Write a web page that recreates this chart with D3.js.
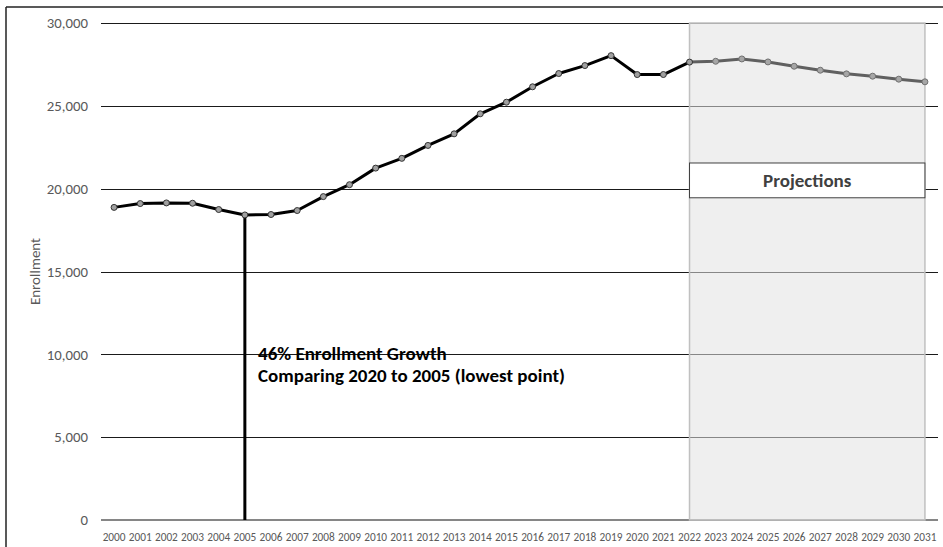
<!DOCTYPE html>
<html>
<head>
<meta charset="utf-8">
<script src="https://cdn.jsdelivr.net/npm/d3@7"></script>
<style>
  html, body { margin: 0; padding: 0; background: #fff; overflow: hidden; }
  svg { display: block; }
  text { font-family: Carlito, Calibri, Lato, "Liberation Sans", sans-serif; }
</style>
</head>
<body>
<svg id="chart" width="943" height="547"></svg>
<script>
// ---- data ----
const years = ["2000","2001","2002","2003","2004","2005","2006","2007","2008","2009","2010",
  "2011","2012","2013","2014","2015","2016","2017","2018","2019","2020","2021","2022",
  "2023","2024","2025","2026","2027","2028","2029","2030","2031"];
const actualYears = ["2000","2001","2002","2003","2004","2005","2006","2007","2008","2009","2010",
  "2011","2012","2013","2014","2015","2016","2017","2018","2019","2020","2021","2022"];
const actualValues = [18870, 19100, 19140, 19120, 18740, 18414, 18440, 18680, 19520, 20240, 21240,
  21830, 22610, 23310, 24520, 25220, 26150, 26950, 27430, 28030, 26888, 26890, 27640];
const projYears = ["2022","2023","2024","2025","2026","2027","2028","2029","2030","2031"];
const projValues = [27640, 27690, 27830, 27650, 27390, 27150, 26930, 26790, 26610, 26450];
const yTicks = [0, 5000, 10000, 15000, 20000, 25000, 30000];
const yLabel = "Enrollment";
const annotationLines = ["46% Enrollment Growth", "Comparing 2020 to 2005 (lowest point)"];
const lowYear = "2005", lowValue = 18414;
const projLabel = "Projections";
const projStart = "2022", projEnd = "2031";

// ---- layout ----
const svg = d3.select("#chart");
const pLeft = 101, pRight = 938, pTop = 23, pBottom = 520;
const x = d3.scalePoint().domain(years).range([pLeft, pRight]).padding(0.5);
const y = d3.scaleLinear().domain([0, 30000]).range([pBottom, pTop]);

// outer chart border (top and left edges only visible)
svg.append("line").attr("x1", 6).attr("x2", 943).attr("y1", 7).attr("y2", 7)
  .attr("stroke", "#222").attr("stroke-width", 1.5);
svg.append("line").attr("x1", 6).attr("x2", 6).attr("y1", 7).attr("y2", 547)
  .attr("stroke", "#222").attr("stroke-width", 1.5);

// gridlines
svg.append("g").selectAll("line").data(yTicks.filter(d => d > 0)).join("line")
  .attr("x1", pLeft).attr("x2", pRight)
  .attr("y1", d => Math.round(y(d)) + 0.5).attr("y2", d => Math.round(y(d)) + 0.5)
  .attr("stroke", "#1a1a1a").attr("stroke-width", 1.1);

// x baseline
svg.append("line").attr("x1", pLeft).attr("x2", pRight)
  .attr("y1", y(0)).attr("y2", y(0)).attr("stroke", "#868686").attr("stroke-width", 2);

// projection shaded region
svg.append("rect")
  .attr("x", x(projStart)).attr("y", y(30000))
  .attr("width", x(projEnd) - x(projStart)).attr("height", y(0) - y(30000))
  .attr("fill", "#e2e2e2").attr("fill-opacity", 0.55)
  .attr("stroke", "#c0c0c0").attr("stroke-width", 1.5);

// projections label box
const boxTop = y(21550), boxBot = y(19450);
svg.append("rect")
  .attr("x", x(projStart)).attr("y", boxTop)
  .attr("width", x(projEnd) - x(projStart)).attr("height", boxBot - boxTop)
  .attr("fill", "#fff").attr("stroke", "#404040").attr("stroke-width", 1);
svg.append("text")
  .attr("x", (x(projStart) + x(projEnd)) / 2).attr("y", (boxTop + boxBot) / 2)
  .attr("dy", "0.35em").attr("text-anchor", "middle")
  .attr("font-size", 19).attr("font-weight", "bold").attr("fill", "#404040")
  .text(projLabel);

// y tick labels
svg.append("g").selectAll("text").data(yTicks).join("text")
  .attr("x", 88).attr("y", d => y(d)).attr("dy", "0.35em")
  .attr("text-anchor", "end").attr("font-size", 14.8).attr("fill", "#595959")
  .text(d => d3.format(",")(d));

// x tick labels
svg.append("g").selectAll("text").data(years).join("text")
  .attr("x", d => x(d)).attr("y", 537).attr("dy", "0.35em")
  .attr("text-anchor", "middle").attr("font-size", 11.3).attr("fill", "#595959")
  .text(d => d);

// y axis title
svg.append("text")
  .attr("transform", `translate(35,${(pTop + pBottom) / 2}) rotate(-90)`)
  .attr("dy", "0.35em").attr("text-anchor", "middle")
  .attr("font-size", 15).attr("fill", "#595959").text(yLabel);

// vertical drop line at lowest point
svg.append("line")
  .attr("x1", x(lowYear)).attr("x2", x(lowYear))
  .attr("y1", y(lowValue)).attr("y2", y(0))
  .attr("stroke", "#000").attr("stroke-width", 3);

// lines
const line = d3.line().x(d => x(d[0])).y(d => y(d[1]));
const actual = actualYears.map((d, i) => [d, actualValues[i]]);
const proj = projYears.map((d, i) => [d, projValues[i]]);

svg.append("path").datum(proj).attr("d", line)
  .attr("fill", "none").attr("stroke", "#606060").attr("stroke-width", 3)
  .attr("stroke-linejoin", "round");
svg.append("path").datum(actual).attr("d", line)
  .attr("fill", "none").attr("stroke", "#000").attr("stroke-width", 3)
  .attr("stroke-linejoin", "round");

svg.append("g").selectAll("circle").data(proj.slice(1)).join("circle")
  .attr("cx", d => x(d[0])).attr("cy", d => y(d[1])).attr("r", 3)
  .attr("fill", "#a6a6a6").attr("stroke", "#707070").attr("stroke-width", 1);
svg.append("g").selectAll("circle").data(actual).join("circle")
  .attr("cx", d => x(d[0])).attr("cy", d => y(d[1])).attr("r", 3)
  .attr("fill", "#a0a0a0").attr("stroke", "#333").attr("stroke-width", 1);

// annotation
const ann = svg.append("text").attr("x", 258).attr("y", 360)
  .attr("font-size", 19).attr("font-weight", "bold").attr("fill", "#000");
annotationLines.forEach((t, i) => {
  ann.append("tspan").attr("x", 258).attr("dy", i === 0 ? 0 : 22).text(t);
});
</script>
</body>
</html>
